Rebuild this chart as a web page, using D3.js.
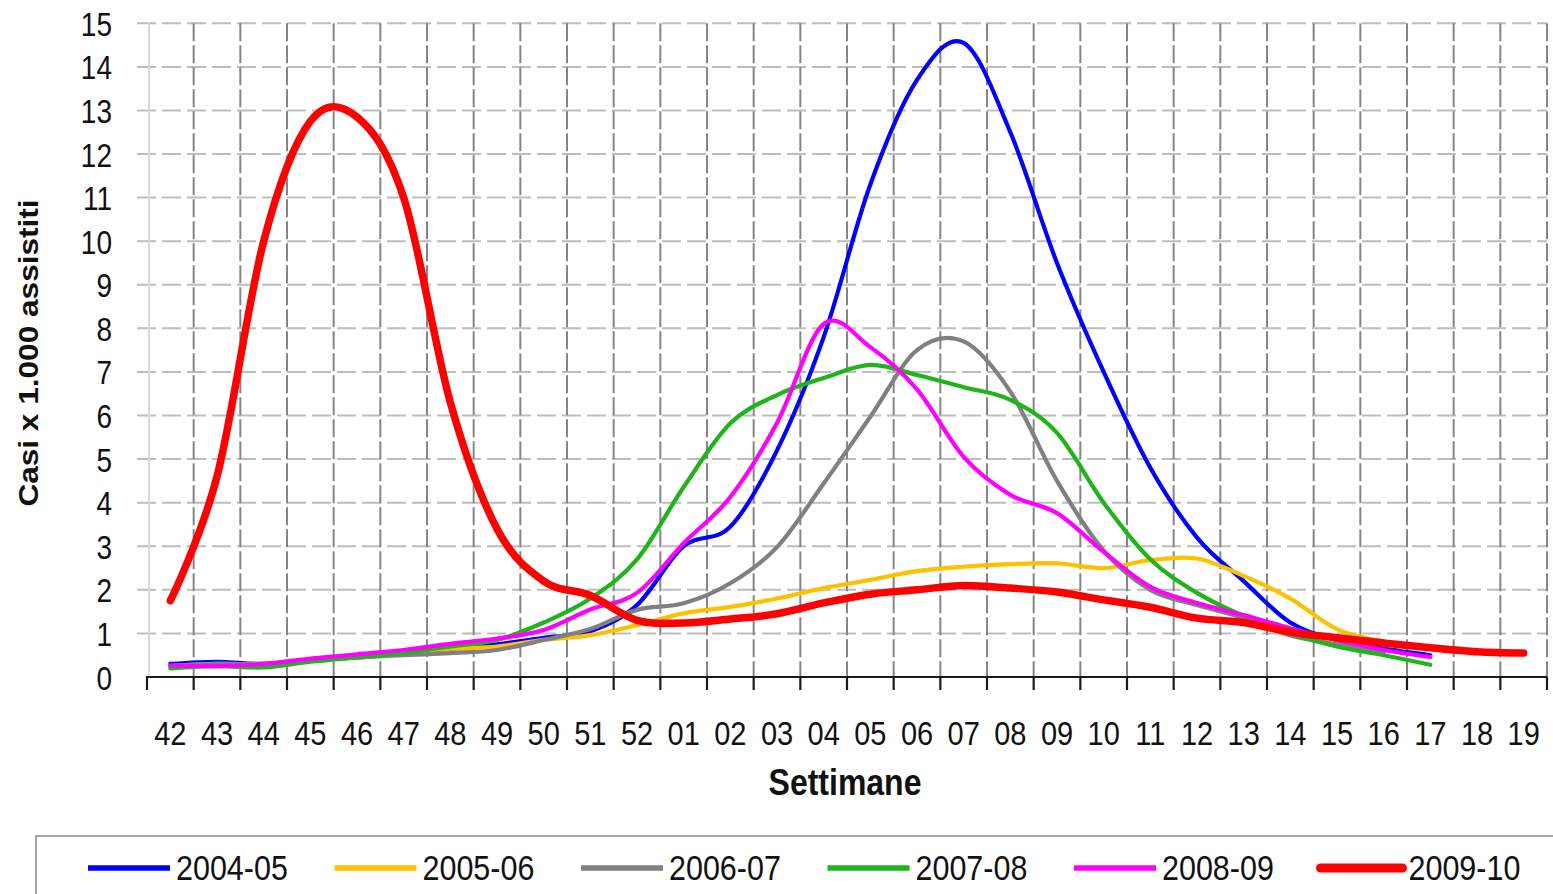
<!DOCTYPE html>
<html><head><meta charset="utf-8">
<script src="https://cdn.jsdelivr.net/npm/d3@7"></script>
<style>
html,body{margin:0;padding:0;background:#fff;}
svg{display:block;}
text{font-family:"Liberation Sans",Arial,sans-serif;fill:#111;}
</style></head>
<body>
<svg id="chart" width="1553" height="894"></svg>
<script>
const weeks = ["42","43","44","45","46","47","48","49","50","51","52","01","02","03","04","05","06","07","08","09","10","11","12","13","14","15","16","17","18","19"];
const yTicks = [0,1,2,3,4,5,6,7,8,9,10,11,12,13,14,15];
const seriesNames = ["2004-05","2005-06","2006-07","2007-08","2008-09","2009-10"];
const seriesColors = ["#0000ff","#ffc000","#808080","#1fb51a","#ff00ff","#ff0000"];
const s2004_05 = [0.3,0.35,0.3,0.4,0.45,0.55,0.65,0.75,0.9,1.05,1.65,3.0,3.45,5.2,7.8,11.3,13.7,14.55,12.5,9.5,7.0,4.8,3.2,2.2,1.25,0.85,0.65,0.5];
const s2005_06 = [0.25,0.3,0.3,0.38,0.45,0.55,0.65,0.7,0.85,0.96,1.19,1.46,1.61,1.8,2.04,2.23,2.43,2.53,2.59,2.61,2.5,2.68,2.72,2.32,1.8,1.1,0.82];
const s2006_07 = [0.25,0.3,0.3,0.38,0.45,0.5,0.55,0.62,0.85,1.1,1.54,1.69,2.15,2.98,4.44,5.97,7.5,7.7,6.55,4.5,2.9,2.0,1.65,1.35,0.95,0.75,0.55];
const s2007_08 = [0.2,0.25,0.22,0.35,0.45,0.55,0.7,0.85,1.25,1.8,2.7,4.36,5.82,6.47,6.86,7.16,6.93,6.65,6.36,5.6,4.0,2.7,1.93,1.4,1.0,0.7,0.5,0.28];
const s2008_09 = [0.27,0.25,0.3,0.42,0.52,0.62,0.76,0.88,1.08,1.55,1.93,3.07,4.13,5.83,8.1,7.57,6.6,5.05,4.18,3.76,2.87,2.07,1.7,1.42,1.12,0.85,0.62,0.46];
const s2009_10 = [1.75,4.6,10.0,12.75,12.85,11.0,6.3,3.4,2.2,1.87,1.3,1.24,1.33,1.45,1.7,1.9,2.0,2.1,2.04,1.95,1.77,1.6,1.35,1.25,1.03,0.9,0.78,0.67,0.58,0.55];
const seriesValues = [s2004_05,s2005_06,s2006_07,s2007_08,s2008_09,s2009_10];

const svg = d3.select("#chart");
const pLeft = 147, pRight = 1547, pTop = 23.3, pBottom = 677;
const x = d3.scaleBand().domain(weeks).range([pLeft, pRight]).padding(0);
const y = d3.scaleLinear().domain([0, 15]).range([pBottom, pTop]);
const SY = 1.17;

// horizontal gridlines
svg.append("g").selectAll("line").data(yTicks.filter(d => d > 0)).join("line")
  .attr("x1", 137).attr("x2", pRight).attr("y1", d => y(d)).attr("y2", d => y(d))
  .attr("stroke", "#bdbdbd").attr("stroke-width", 2).attr("stroke-dasharray", "19,6");
// y axis line
svg.append("line").attr("x1", 149).attr("x2", 149).attr("y1", pTop).attr("y2", pBottom)
  .attr("stroke", "#d9d9d9").attr("stroke-width", 2);
// vertical gridlines at band boundaries
const bounds = d3.range(1, weeks.length + 1).map(k => pLeft + k * x.step());
svg.append("g").selectAll("line").data(bounds).join("line")
  .attr("x1", d => d).attr("x2", d => d).attr("y1", pTop).attr("y2", pBottom)
  .attr("stroke", "#858585").attr("stroke-width", 2).attr("stroke-dasharray", "18,4");

// x axis with labels
const xAxis = svg.append("g").attr("transform", `translate(0,${pBottom})`)
  .call(d3.axisBottom(x).tickSize(0).tickPadding(0));
xAxis.select(".domain").remove();
xAxis.selectAll("text").attr("dy", null).attr("y", 68 / SY)
  .attr("transform", `scale(1,${SY})`)
  .style("font-size", "29px").style("font-family", '"Liberation Sans",Arial,sans-serif').attr("fill", "#111");
svg.append("line").attr("x1", pLeft - 1).attr("x2", pRight).attr("y1", pBottom).attr("y2", pBottom)
  .attr("stroke", "#1a1a1a").attr("stroke-width", 2.2);
svg.append("g").selectAll("line").data([pLeft].concat(bounds)).join("line")
  .attr("x1", d => d).attr("x2", d => d).attr("y1", pBottom).attr("y2", pBottom + 13)
  .attr("stroke", "#1a1a1a").attr("stroke-width", 2.2);

// y axis labels
const yAxis = svg.append("g").attr("transform", `translate(112,0)`)
  .call(d3.axisLeft(y).tickValues(yTicks).tickSize(0).tickPadding(0).tickFormat(d3.format("d")));
yAxis.select(".domain").remove();
yAxis.selectAll("text").attr("dy", null).attr("x", 0).attr("y", 12 / SY)
  .attr("transform", `scale(1,${SY})`)
  .style("font-size", "28px").style("font-family", '"Liberation Sans",Arial,sans-serif').attr("fill", "#111")
  .attr("text-anchor", "end");

// axis titles
svg.append("text").attr("transform", `translate(845,795) scale(1,${SY})`)
  .attr("text-anchor", "middle").style("font-size", "32px").style("font-weight", "bold")
  .text("Settimane");
svg.append("text").attr("transform", `translate(38,353) rotate(-90) scale(${SY},1)`)
  .attr("text-anchor", "middle").style("font-size", "27px").style("font-weight", "bold")
  .text("Casi x 1.000 assistiti");

// lines
const line = d3.line()
  .x((d, i) => x(weeks[i]) + x.bandwidth() / 2)
  .y(d => y(d))
  .curve(d3.curveCardinal.tension(0));
seriesValues.forEach((vals, si) => {
  svg.append("path").datum(vals).attr("d", line)
    .attr("fill", "none").attr("stroke", seriesColors[si])
    .attr("stroke-width", si === 5 ? 7.5 : 4.2)
    .attr("stroke-linecap", "round").attr("stroke-linejoin", "round");
});

// legend
svg.append("rect").attr("x", 36).attr("y", 836).attr("width", 1540).attr("height", 80)
  .attr("fill", "none").attr("stroke", "#a6a6a6").attr("stroke-width", 2);
const lg = svg.append("g").selectAll("g").data(seriesNames).join("g")
  .attr("transform", (d, i) => `translate(${88 + i * 246.5},868)`);
lg.append("line").attr("x1", 0).attr("x2", 82).attr("y1", 0).attr("y2", 0)
  .attr("stroke", (d, i) => seriesColors[i]).attr("stroke-width", (d, i) => i === 5 ? 9 : 5.5)
  .attr("stroke-linecap", (d, i) => i === 5 ? "round" : "butt");
lg.append("text").attr("transform", `translate(88,12) scale(1,1.14)`)
  .style("font-size", "30.5px").text(d => d);
</script>
</body></html>
